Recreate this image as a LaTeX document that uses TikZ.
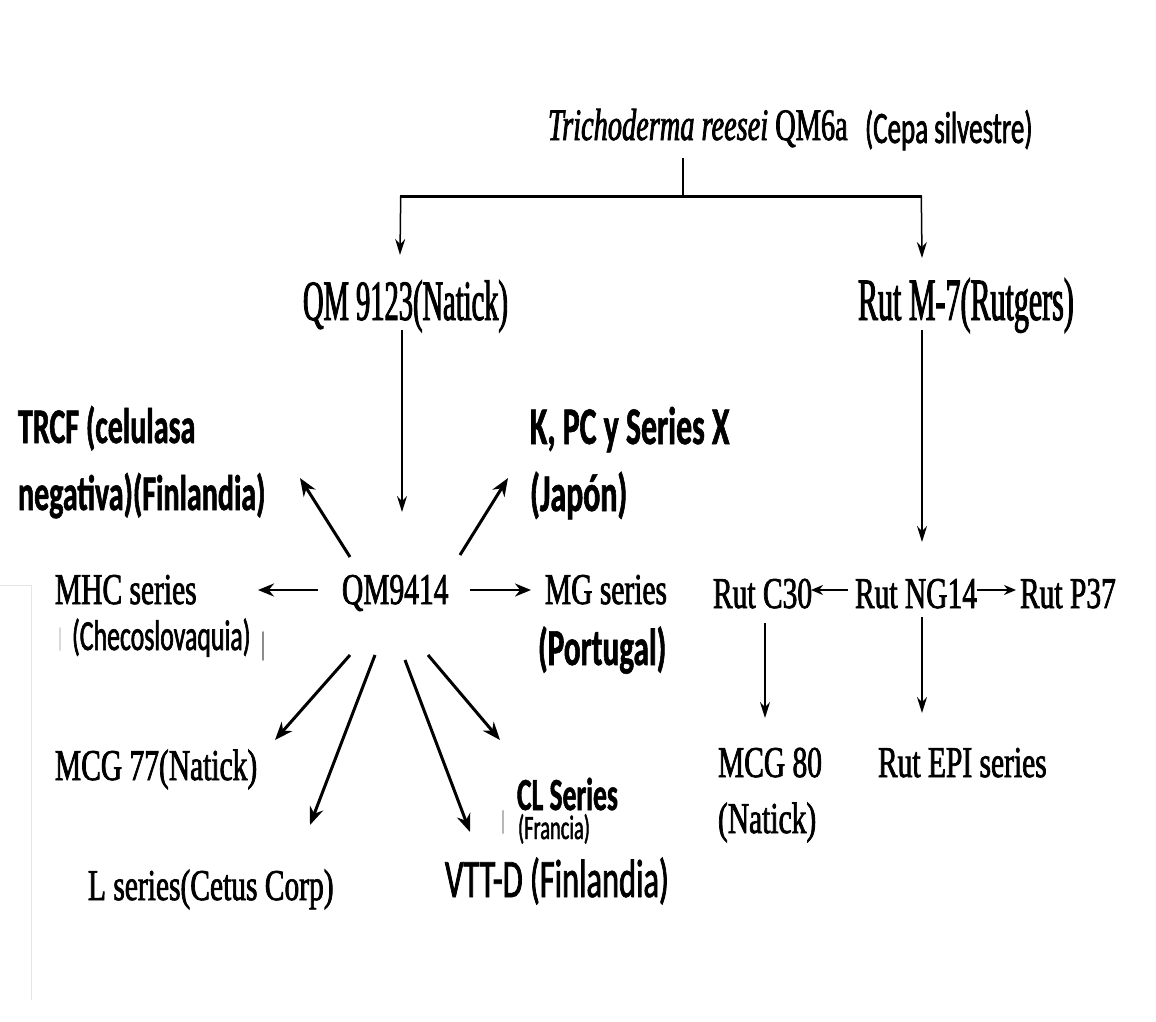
\documentclass[tikz,border=0pt]{standalone}
\usepackage{fontspec}
\usetikzlibrary{arrows.meta,calc}
% condensed serif faces for the strain names
\newfontfamily\serA{Liberation Serif}[FakeStretch=0.67,FakeBold=1.6]
\newfontfamily\serB{Liberation Serif}[FakeStretch=0.5,FakeBold=1.6]
\newfontfamily\serC{Liberation Serif}[FakeStretch=0.63,FakeBold=1.6]
% condensed sans faces for the country notes
\newfontfamily\calfam{Carlito}[FakeStretch=0.6,FakeBold=1.1]
\newfontfamily\calreg{Carlito}[FakeStretch=0.6,FakeBold=1.4]
\begin{document}
\begin{tikzpicture}[x=1pt,y=-1pt,
  lbl/.style={anchor=base west,inner sep=0pt,outer sep=0pt,text=black},
  strain/.style={lbl,font=\serA\fontsize{44}{50}\selectfont},
  bigstrain/.style={lbl,font=\serB\fontsize{#1}{#1}\selectfont},
  note/.style={lbl,font=\calfam\bfseries\fontsize{#1}{67}\selectfont,align=left},
  plainnote/.style={lbl,font=\calreg\fontsize{#1}{#1}\selectfont},
  thinarr/.style={-{Stealth[length=16pt,width=10pt]},line width=1.5pt},
  thickarr/.style={-{Stealth[length=18pt,width=14pt]},line width=3pt},
  midarr/.style={-{Stealth[length=16pt,width=13pt]},line width=2.6pt},
  smallarr/.style={-{Stealth[length=12pt,width=10pt]},line width=2.2pt},
  edgemark/.style={line width=1.6pt,line cap=round}]
\useasboundingbox (0,0) rectangle (1156,1022);
\fill[white] (0,0) rectangle (1156,1022);

% root strain
\node[lbl,font=\serC\fontsize{45}{50}\selectfont] (title) at (548,140) {\textit{Trichoderma reesei} QM6a};
\node[plainnote=45] (cepa) at (865,143) {(Cepa silvestre)};

% first generation
\node[bigstrain=57] (q9123) at (303,320) {QM 9123(Natick)};
\node[bigstrain=60] (rutm7) at (858,320) {Rut M-7(Rutgers)};

% QM9414 family (multi-line labels are placed by their last baseline)
\node[strain] (q9414) at (342,604) {QM9414};
\node[note=50] (trcf) at (18,510) {TRCF (celulasa\\negativa)(Finlandia)};
\node[note=53] (kpc) at (530,511) {K, PC y Series X\\(Japón)};
\node[strain] (mhc) at (55,604) {MHC series};
\node[plainnote=43] (checo) at (72,650) {(Checoslovaquia)};
\node[strain] (mg) at (545,604) {MG series};
\node[note=52] (portugal) at (538,665) {(Portugal)};
\node[strain] (mcg77) at (55,780) {MCG 77(Natick)};
\node[strain] (lser) at (88,900) {L series(Cetus Corp)};
\node[note=46] (cl) at (517,810) {CL Series};
\node[plainnote=34] (francia) at (518,839) {(Francia)};
\node[plainnote=54] (vtt) at (445,897) {VTT-D (Finlandia)};

% Rutgers family
\node[strain] (rutc30) at (713,608) {Rut C30};
\node[strain] (ng14) at (855,608) {Rut NG14};
\node[strain] (p37) at (1020,608) {Rut P37};
\node[strain,align=left,font=\serA\fontsize{44}{56}\selectfont] (mcg80) at (718,833) {MCG 80\\(Natick)};
\node[strain] (rutepi) at (878,777) {Rut EPI series};

% split from the wild strain
\coordinate (split) at (683,196);
\coordinate (barL) at (400,196);
\coordinate (barR) at (922,196);
\draw[line width=1.5pt] ($(title.base west)+(135,18)$) -- (split);
\draw[line width=3pt] (barL) -- (barR);
\draw[thinarr] ([xshift=0.7pt]barL) -- ($(q9123.base west)+(97,-65)$);
\draw[thinarr] ([xshift=-0.7pt]barR) -- ($(rutm7.base west)+(64,-62)$);

% vertical descent
\draw[thinarr] ($(q9123.base west)+(99,10)$) -- ($(q9414.base west)+(60,-92)$);
\draw[thinarr] ($(rutm7.base west)+(64,10)$) -- ($(ng14.base west)+(67,-66)$);

% QM9414 derivatives
\draw[midarr] ($(q9414.base west)+(-24,-14)$) -- ($(mhc.base west)+(203,-14)$);
\draw[midarr] ($(q9414.base west)+(128,-14)$) -- ($(mg.base west)+(-14,-14)$);
\draw[thickarr] ($(q9414.base west)+(8,-47)$) -- ($(trcf.base west)+(282,-32)$);
\draw[thickarr] ($(q9414.base west)+(118,-49)$) -- ($(kpc.base west)+(-22,-33)$);
\draw[thickarr] ($(q9414.base west)+(8,51)$) -- ($(mcg77.base west)+(220,-40)$);
\draw[thickarr] ($(q9414.base west)+(33,51)$) -- ($(lser.base west)+(222,-75)$);
\draw[thickarr] ($(q9414.base west)+(63,56)$) -- ($(vtt.base west)+(25,-65)$);
\draw[thickarr] ($(q9414.base west)+(86,51)$) -- ($(cl.base west)+(-17,-70)$);

% Rut NG14 derivatives
\draw[smallarr] ($(ng14.base west)+(-7,-18)$) -- ($(rutc30.base west)+(98,-18)$);
\draw[smallarr] ($(ng14.base west)+(122,-18)$) -- ($(p37.base west)+(-4,-18)$);
\draw[thinarr] ($(rutc30.base west)+(52,15)$) -- ($(mcg80.base west)+(47,-115)$);
\draw[thinarr] ($(ng14.base west)+(67,9)$) -- ($(rutepi.base west)+(44,-64)$);

% leftover edge marks of pasted text boxes
\draw[edgemark,black!45] (263,632) -- (263,660);
\draw[edgemark,black!15] (60,628) -- (60,650);
\draw[edgemark,black!28,line width=2.4pt] (503,811) -- (503,833);
\draw[black!10,line width=1pt] (0,585) -- (31,585) -- (31,1000);
\end{tikzpicture}
\end{document}
